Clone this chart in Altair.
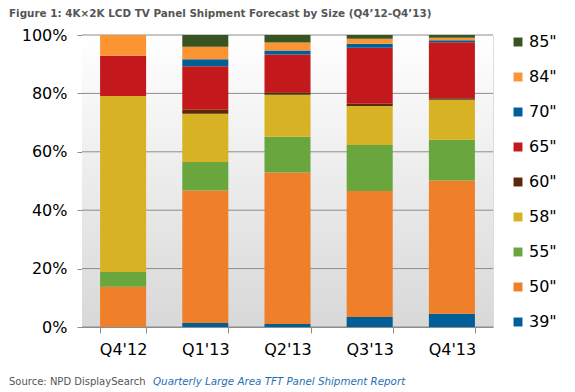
import altair as alt
import pandas as pd

quarters = ["Q4'12", "Q1'13", "Q2'13", "Q3'13", "Q4'13"]
sizes = ['39"', '50"', '55"', '58"', '60"', '65"', '70"', '84"', '85"']
colors = ["#005f96", "#f07f29", "#6aa63e", "#d6b224", "#5a2a08", "#c4191c", "#005f96", "#fd9434", "#375421"]
# share (%) per size, per quarter
s39 = [0.0, 1.4, 1.0, 3.4, 4.5]
s50 = [13.8, 45.4, 51.9, 43.2, 45.7]
s55 = [5.0, 9.8, 12.2, 15.8, 13.9]
s58 = [60.3, 16.5, 14.4, 13.4, 13.7]
s60 = [0.0, 1.4, 0.8, 0.7, 0.5]
s65 = [13.8, 14.9, 12.9, 19.2, 19.2]
s70 = [0.0, 2.4, 1.4, 1.4, 0.7]
s84 = [7.1, 4.3, 2.7, 1.7, 0.9]
s85 = [0.0, 4.0, 2.6, 1.3, 0.9]
series = [s39, s50, s55, s58, s60, s65, s70, s84, s85]
grid_values = [0, 0.2, 0.4, 0.6, 0.8, 1.0]

rows = []
for i, (size, vals) in enumerate(zip(sizes, series)):
    for q, v in zip(quarters, vals):
        rows.append({"quarter": q, "size": size, "share": v, "idx": i})
df = pd.DataFrame(rows)

W, H = 411, 292
FONT = "DejaVu Sans"

bg = alt.Chart(pd.DataFrame({"a": [0]})).mark_rect(
    color=alt.LinearGradient(
        gradient="linear",
        stops=[alt.GradientStop(color="#ffffff", offset=0),
               alt.GradientStop(color="#d8d8d8", offset=1)],
        x1=0, x2=0, y1=0, y2=1,
    )
).encode(x=alt.value(0), x2=alt.value(W), y=alt.value(0), y2=alt.value(H))

grid = alt.Chart(pd.DataFrame({"g": grid_values})).mark_rule(
    color="#8c8c8c", strokeWidth=1
).encode(y=alt.Y("g:Q"))

bars = alt.Chart(df).mark_bar(stroke=None).encode(
    x=alt.X(
        "quarter:N",
        sort=quarters,
        title=None,
        scale=alt.Scale(paddingInner=0.44, paddingOuter=0.22),
        axis=alt.Axis(
            labelAngle=0, labelFont=FONT, labelFontSize=16, labelColor="#000000",
            tickBand="extent", tickSize=6, tickColor="#8c8c8c",
            domainColor="#8c8c8c", labelPadding=8, grid=False,
        ),
    ),
    y=alt.Y(
        "share:Q",
        stack="normalize",
        title=None,
        scale=alt.Scale(domain=[0, 1]),
        axis=alt.Axis(
            format=".0%", values=grid_values, labelFont=FONT, labelFontSize=16,
            labelColor="#000000", tickSize=5, tickColor="#8c8c8c",
            domainColor="#8c8c8c", labelPadding=10, grid=False,
        ),
    ),
    color=alt.Color(
        "size:N",
        scale=alt.Scale(domain=sizes[::-1], range=colors[::-1]),
        legend=alt.Legend(
            title=None, orient="none", legendX=428, legendY=-1,
            symbolType="square", symbolSize=80, symbolStrokeWidth=0,
            labelFont=FONT, labelFontSize=16, labelColor="#000000",
            rowPadding=19, padding=0, labelOffset=3,
        ),
    ),
    order=alt.Order("idx:Q", sort="ascending"),
)

src1 = alt.Chart(pd.DataFrame({"t": ["Source: NPD DisplaySearch"]})).mark_text(
    align="left", baseline="middle", font=FONT, fontSize=10, color="#555555"
).encode(x=alt.value(-73), y=alt.value(H + 55), text="t:N")

src2 = alt.Chart(pd.DataFrame({"t": ["Quarterly Large Area TFT Panel Shipment Report"]})).mark_text(
    align="left", baseline="middle", font=FONT, fontSize=10.3, fontStyle="italic", color="#1f6fb5"
).encode(x=alt.value(71), y=alt.value(H + 55), text="t:N")

chart = alt.layer(bg, grid, bars, src1, src2).properties(
    width=W, height=H,
    autosize=alt.AutoSizeParams(type="none"),
    padding={"left": 74, "top": 27, "right": 559 - 74 - W, "bottom": 384 - 27 - H},
    title=alt.TitleParams(
        "Figure 1: 4K×2K LCD TV Panel Shipment Forecast by Size (Q4’12-Q4’13)",
        anchor="start", frame="group", font=FONT, fontSize=10.4, fontWeight="bold",
        color="#555555", dx=-73, offset=8,
    ),
).configure_view(stroke="#8c8c8c", strokeWidth=1).configure(background="#ffffff")

chart.save("out.html", embed_options={"renderer": "svg", "actions": False})
